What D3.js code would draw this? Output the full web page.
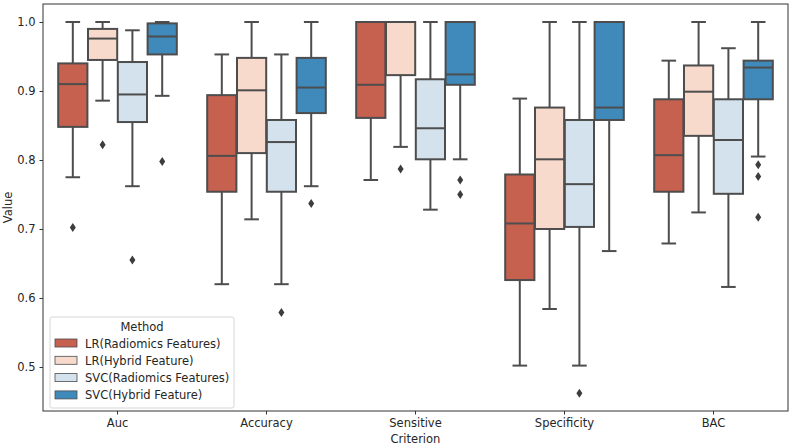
<!DOCTYPE html>
<html>
<head>
<meta charset="utf-8">
<script src="https://cdn.jsdelivr.net/npm/d3@7"></script>
<style>
  body { margin: 0; background: #fff; }
  text { font-family: "DejaVu Sans", sans-serif; fill: #262626; }
</style>
</head>
<body>
<svg id="chart" width="791" height="448"></svg>
<script>
// categories and methods
const criteria = ["Auc", "Accuracy", "Sensitive", "Specificity", "BAC"];
const methods = ["LR(Radiomics Features)", "LR(Hybrid Feature)", "SVC(Radiomics Features)", "SVC(Hybrid Feature)"];
const colors = ["#c6604f", "#f7dacb", "#d3e2ed", "#3f89bb"];

// box stats per method, one entry per criterion: [whiskerLow, q1, median, q3, whiskerHigh]
const lrRad = [
  [0.775, 0.848, 0.910, 0.940, 1.000],
  [0.620, 0.754, 0.806, 0.894, 0.953],
  [0.771, 0.861, 0.909, 1.000, 1.000],
  [0.502, 0.626, 0.708, 0.779, 0.889],
  [0.679, 0.754, 0.807, 0.888, 0.944]
];
const lrHyb = [
  [0.886, 0.945, 0.976, 0.990, 1.000],
  [0.714, 0.810, 0.901, 0.948, 1.000],
  [0.819, 0.923, 1.000, 1.000, 1.000],
  [0.584, 0.700, 0.801, 0.876, 1.000],
  [0.724, 0.835, 0.899, 0.937, 1.000]
];
const svcRad = [
  [0.762, 0.855, 0.895, 0.942, 0.988],
  [0.620, 0.754, 0.826, 0.858, 0.953],
  [0.728, 0.801, 0.846, 0.917, 1.000],
  [0.502, 0.703, 0.765, 0.858, 1.000],
  [0.616, 0.751, 0.829, 0.888, 0.962]
];
const svcHyb = [
  [0.893, 0.953, 0.979, 0.998, 1.000],
  [0.762, 0.868, 0.905, 0.948, 1.000],
  [0.801, 0.909, 0.924, 1.000, 1.000],
  [0.668, 0.858, 0.876, 1.000, 1.000],
  [0.805, 0.888, 0.934, 0.944, 1.000]
];
// outliers per method, per criterion
const lrRadOut = [[0.702], [], [], [], []];
const lrHybOut = [[0.822], [], [0.787], [], []];
const svcRadOut = [[0.655], [0.579], [], [0.462], []];
const svcHybOut = [[0.798], [0.737], [0.771, 0.750], [], [0.793, 0.776, 0.717]];

const yTicks = [0.5, 0.6, 0.7, 0.8, 0.9, 1.0];

const stats = [lrRad, lrHyb, svcRad, svcHyb];
const outs = [lrRadOut, lrHybOut, svcRadOut, svcHybOut];

const svg = d3.select("#chart");
const m = { left: 43, right: 788, top: 4, bottom: 411 };
const edge = "#4d4d4d";

const x = d3.scaleBand().domain(criteria).range([m.left, m.right]);
const inner = d3.scaleBand().domain(methods).range([0, x.bandwidth() * 0.8]);
const y = d3.scaleLinear().domain([0.4362, 1.0261]).range([m.bottom, m.top]);

const boxW = inner.bandwidth() * 0.98;
const off = x.bandwidth() * 0.1;

const g = svg.append("g");

methods.forEach((meth, mi) => {
  criteria.forEach((c, ci) => {
    const [lo, q1, med, q3, hi] = stats[mi][ci];
    const cx = x(c) + off + inner(meth) + inner.bandwidth() / 2;
    const bg = g.append("g");
    // whiskers
    bg.append("line").attr("x1", cx).attr("x2", cx).attr("y1", y(q3)).attr("y2", y(hi))
      .attr("stroke", edge).attr("stroke-width", 2);
    bg.append("line").attr("x1", cx).attr("x2", cx).attr("y1", y(q1)).attr("y2", y(lo))
      .attr("stroke", edge).attr("stroke-width", 2);
    [lo, hi].forEach(v => {
      bg.append("line").attr("x1", cx - boxW / 4).attr("x2", cx + boxW / 4)
        .attr("y1", y(v)).attr("y2", y(v)).attr("stroke", edge).attr("stroke-width", 2);
    });
    bg.append("rect").attr("x", cx - boxW / 2).attr("width", boxW)
      .attr("y", y(q3)).attr("height", Math.max(0, y(q1) - y(q3)))
      .attr("fill", colors[mi]).attr("stroke", edge).attr("stroke-width", 2);
    bg.append("line").attr("x1", cx - boxW / 2).attr("x2", cx + boxW / 2)
      .attr("y1", y(med)).attr("y2", y(med)).attr("stroke", edge).attr("stroke-width", 2);
    outs[mi][ci].forEach(v => {
      bg.append("path").attr("transform", `translate(${cx},${y(v)})`)
        .attr("d", "M0,-4.5L3,0L0,4.5L-3,0Z").attr("fill", "#3d3d3d");
    });
  });
});

// frame
svg.append("rect").attr("x", m.left).attr("y", m.top)
  .attr("width", m.right - m.left).attr("height", m.bottom - m.top)
  .attr("fill", "none").attr("stroke", "#333").attr("stroke-width", 1);

// axes
const yAxis = svg.append("g").attr("transform", `translate(${m.left},0)`)
  .call(d3.axisLeft(y).tickValues(yTicks).tickFormat(d3.format(".1f")).tickSize(3.5).tickPadding(4));
const xAxis = svg.append("g").attr("transform", `translate(0,${m.bottom})`)
  .call(d3.axisBottom(x).tickSize(3.5).tickPadding(4));
[yAxis, xAxis].forEach(a => {
  a.select(".domain").remove();
  a.selectAll("line").attr("stroke", "#333");
  a.selectAll("text").attr("font-size", 11.5).attr("font-family", "DejaVu Sans").attr("fill", "#262626");
});

svg.append("text").attr("transform", `translate(12,${(m.top + m.bottom) / 2}) rotate(-90)`)
  .attr("text-anchor", "middle").attr("font-size", 11.5).text("Value");
svg.append("text").attr("x", (m.left + m.right) / 2).attr("y", 443)
  .attr("text-anchor", "middle").attr("font-size", 11.5).text("Criterion");

// legend
const lg = svg.append("g").attr("transform", "translate(50,317)");
lg.append("rect").attr("width", 184).attr("height", 91).attr("rx", 2)
  .attr("fill", "#fff").attr("fill-opacity", 0.85).attr("stroke", "#d6d6d6");
lg.append("text").attr("x", 92).attr("y", 14).attr("text-anchor", "middle")
  .attr("font-size", 11.5).text("Method");
methods.forEach((meth, i) => {
  const row = lg.append("g").attr("transform", `translate(5,${26 + i * 17.3})`);
  row.append("rect").attr("width", 22).attr("height", 8).attr("y", -4)
    .attr("fill", colors[i]).attr("stroke", edge).attr("stroke-width", 0.8);
  row.append("text").attr("x", 30).attr("y", 4.5).attr("font-size", 11.5).text(meth);
});
</script>
</body>
</html>
